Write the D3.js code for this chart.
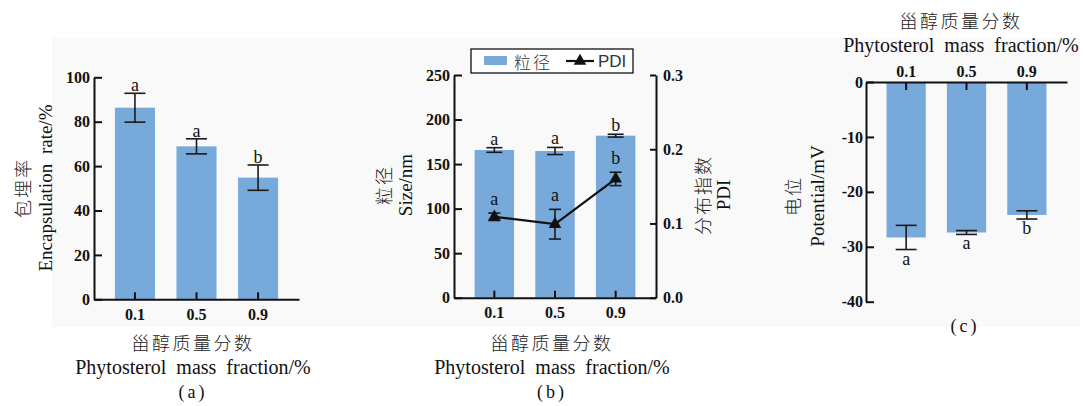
<!DOCTYPE html>
<html>
<head>
<meta charset="utf-8">
<script src="https://cdn.jsdelivr.net/npm/d3@7"></script>
<style>
  body { margin: 0; background: #fff; }
</style>
</head>
<body>
<svg id="chart" width="1083" height="406"></svg>
<script>
// data
const fractions        = ["0.1", "0.5", "0.9"];
const encapRate        = [86.3, 68.9, 54.8];
const encapErr         = [6.5, 3.4, 5.7];
const encapLetters     = ["a", "a", "b"];
const sizeNm           = [165.8, 164.7, 181.9];
const sizeErr          = [2.6, 4.0, 1.6];
const sizeLetters      = ["a", "a", "b"];
const pdiValues        = [0.109, 0.099, 0.160];
const pdiErr           = [0.005, 0.020, 0.009];
const pdiLetters       = ["a", "a", "b"];
const potential        = [-28.3, -27.4, -24.2];
const potentialErr     = [2.2, 0.35, 0.75];
const potentialLetters = ["a", "a", "b"];
const ticksA   = [0, 20, 40, 60, 80, 100];
const ticksB   = [0, 50, 100, 150, 200, 250];
const ticksPdi = [0, 0.1, 0.2, 0.3];
const ticksC   = [0, -10, -20, -30, -40];

const svg = d3.select("#chart");
const SERIF = "'Liberation Serif', 'Times New Roman', serif";
const CJK   = "'Noto Sans CJK SC', sans-serif";
const barColor = "#78a9db";
const ink = "#111";

// faint grey panel behind the plots
svg.append("rect")
    .attr("x", 52).attr("y", 38)
    .attr("width", 1028).attr("height", 289)
    .attr("fill", "#f9f9f9");

// style an axis group the same way for every panel
function styleAxis(g) {
    g.select(".domain").attr("stroke", ink).attr("stroke-width", 2);
    g.selectAll(".tick line").attr("stroke", ink).attr("stroke-width", 2);
    g.selectAll(".tick text")
        .attr("fill", ink)
        .attr("font-family", SERIF)
        .attr("font-weight", "bold")
        .attr("font-size", "16px");
}

// two line rotated axis title (chinese + english)
function yTitle(cx, cy, zh, en, gap) {
    const g = svg.append("g").attr("transform", `translate(${cx}, ${cy}) rotate(-90)`);
    g.append("text")
        .attr("y", 0)
        .attr("text-anchor", "middle")
        .attr("dominant-baseline", "central")
        .attr("font-family", CJK)
        .attr("font-weight", 300)
        .attr("font-size", "18px")
        .attr("letter-spacing", "2px")
        .attr("fill", "#222")
        .text(zh);
    g.append("text")
        .attr("y", gap)
        .attr("text-anchor", "middle")
        .attr("dominant-baseline", "central")
        .attr("font-family", SERIF)
        .attr("font-size", "19px")
        .attr("word-spacing", "5px")
        .attr("fill", ink)
        .text(en);
}

// chinese / english x title plus the panel tag
function xTitle(cx, y, tag) {
    svg.append("text")
        .attr("x", cx).attr("y", y)
        .attr("text-anchor", "middle")
        .attr("dominant-baseline", "central")
        .attr("font-family", CJK)
        .attr("font-weight", 300)
        .attr("font-size", "18px")
        .attr("letter-spacing", "2.5px")
        .attr("fill", "#222")
        .text("甾醇质量分数");
    svg.append("text")
        .attr("x", cx).attr("y", y + 25)
        .attr("text-anchor", "middle")
        .attr("dominant-baseline", "central")
        .attr("font-family", SERIF)
        .attr("font-size", "20px")
        .attr("word-spacing", "5px")
        .attr("fill", ink)
        .text("Phytosterol mass fraction/%");
    if (tag) panelTag(cx, y + 50, tag);
}

function panelTag(cx, y, tag) {
    svg.append("text")
        .attr("x", cx).attr("y", y)
        .attr("text-anchor", "middle")
        .attr("dominant-baseline", "central")
        .attr("font-family", SERIF)
        .attr("font-size", "18px")
        .attr("letter-spacing", "3px")
        .attr("fill", ink)
        .text(tag);
}

// error bars with caps
function errorBars(g, xs, ys, vals, errs, cap) {
    const eb = g.append("g").attr("stroke", "#1a1a1a").attr("stroke-width", 1.6);
    vals.forEach((v, i) => {
        const cx = xs(fractions[i]) + xs.bandwidth() / 2;
        const y1 = ys(v + errs[i]), y2 = ys(v - errs[i]);
        eb.append("line").attr("x1", cx).attr("x2", cx).attr("y1", y1).attr("y2", y2);
        eb.append("line").attr("x1", cx - cap).attr("x2", cx + cap).attr("y1", y1).attr("y2", y1);
        eb.append("line").attr("x1", cx - cap).attr("x2", cx + cap).attr("y1", y2).attr("y2", y2);
    });
}

function letters(g, xs, labels, yFn) {
    g.append("g").selectAll("text")
        .data(labels)
        .join("text")
        .attr("x", (d, i) => xs(fractions[i]) + xs.bandwidth() / 2)
        .attr("y", (d, i) => yFn(i))
        .attr("text-anchor", "middle")
        .attr("font-family", SERIF)
        .attr("font-size", "18px")
        .attr("fill", ink)
        .text(d => d);
}

// ---------- (a) encapsulation rate ----------
const xA = d3.scaleBand().domain(fractions).range([94, 299]).paddingInner(0.35).paddingOuter(0.34);
const yA = d3.scaleLinear().domain([0, 100]).range([299.3, 77.3]);
const gA = svg.append("g");

gA.selectAll("rect")
    .data(encapRate)
    .join("rect")
    .attr("x", (d, i) => xA(fractions[i]))
    .attr("width", xA.bandwidth())
    .attr("y", d => yA(d))
    .attr("height", d => yA(0) - yA(d))
    .attr("fill", barColor);
errorBars(gA, xA, yA, encapRate, encapErr, 10.5);
letters(gA, xA, encapLetters, i => yA(encapRate[i] + encapErr[i]) - 2);

gA.append("g").attr("transform", `translate(94,0)`)
    .call(d3.axisLeft(yA).tickValues(ticksA).tickSizeInner(-8).tickSizeOuter(0).tickPadding(4))
    .call(styleAxis);
gA.append("g").attr("transform", `translate(0,${yA(0)})`)
    .call(d3.axisBottom(xA).tickSizeInner(-7).tickSizeOuter(0).tickPadding(9))
    .call(styleAxis);
yTitle(22, 188, "包埋率", "Encapsulation rate/%", 23);
xTitle(193, 342, "(a)");

// ---------- (b) particle size + PDI ----------
const xB = d3.scaleBand().domain(fractions).range([454, 656]).paddingInner(0.35).paddingOuter(0.34);
const yB = d3.scaleLinear().domain([0, 250]).range([297.7, 75]);
const yP = d3.scaleLinear().domain([0, 0.3]).range([297.7, 75]);
const gB = svg.append("g");

gB.selectAll("rect")
    .data(sizeNm)
    .join("rect")
    .attr("x", (d, i) => xB(fractions[i]))
    .attr("width", xB.bandwidth())
    .attr("y", d => yB(d))
    .attr("height", d => yB(0) - yB(d))
    .attr("fill", barColor);
errorBars(gB, xB, yB, sizeNm, sizeErr, 8);
letters(gB, xB, sizeLetters, i => yB(sizeNm[i] + sizeErr[i]) - 3);

// PDI line with triangles
const pdiLine = d3.line()
    .x((d, i) => xB(fractions[i]) + xB.bandwidth() / 2)
    .y(d => yP(d));
gB.append("path")
    .datum(pdiValues)
    .attr("d", pdiLine)
    .attr("fill", "none")
    .attr("stroke", ink)
    .attr("stroke-width", 2.2);
errorBars(gB, xB, yP, pdiValues, pdiErr, 6);
const tri = d3.symbol().type(d3.symbolTriangle).size(70);
gB.append("g").selectAll("path")
    .data(pdiValues)
    .join("path")
    .attr("transform", (d, i) => `translate(${xB(fractions[i]) + xB.bandwidth() / 2}, ${yP(d)})`)
    .attr("d", tri)
    .attr("fill", ink);
letters(gB, xB, pdiLetters, i => yP(pdiValues[i] + pdiErr[i]) - 8);

gB.append("g").attr("transform", `translate(454,0)`)
    .call(d3.axisLeft(yB).tickValues(ticksB).tickSizeInner(-8).tickSizeOuter(0).tickPadding(4))
    .call(styleAxis);
gB.append("g").attr("transform", `translate(656,0)`)
    .call(d3.axisRight(yP).tickValues(ticksPdi).tickFormat(d3.format(".1f"))
        .tickSizeInner(-6).tickSizeOuter(0).tickPadding(7))
    .call(styleAxis);
gB.append("g").attr("transform", `translate(0,${yB(0)})`)
    .call(d3.axisBottom(xB).tickSizeInner(-7).tickSizeOuter(0).tickPadding(9))
    .call(styleAxis);
yTitle(383, 185, "粒径", "Size/nm", 22);
yTitle(702, 195, "分布指数", "PDI", 21);
xTitle(552, 342, "(b)");

// legend
const lg = svg.append("g");
lg.append("rect")
    .attr("x", 471).attr("y", 49).attr("width", 162).attr("height", 24)
    .attr("fill", "#fff").attr("stroke", ink).attr("stroke-width", 1.3);
lg.append("rect")
    .attr("x", 484).attr("y", 56).attr("width", 23).attr("height", 9)
    .attr("fill", barColor);
lg.append("text")
    .attr("x", 514).attr("y", 61)
    .attr("dominant-baseline", "central")
    .attr("font-family", CJK).attr("font-weight", 300).attr("font-size", "17px")
    .attr("letter-spacing", "2px").attr("fill", "#333")
    .text("粒径");
lg.append("line")
    .attr("x1", 566).attr("x2", 594).attr("y1", 61).attr("y2", 61)
    .attr("stroke", ink).attr("stroke-width", 2.2);
lg.append("path")
    .attr("transform", "translate(580,61)")
    .attr("d", tri)
    .attr("fill", ink);
lg.append("text")
    .attr("x", 598).attr("y", 61)
    .attr("dominant-baseline", "central")
    .attr("font-family", "'Liberation Sans', Arial, sans-serif").attr("font-size", "17px").attr("fill", "#333")
    .text("PDI");

// ---------- (c) zeta potential ----------
const xC = d3.scaleBand().domain(fractions).range([866, 1067]).paddingInner(0.35).paddingOuter(0.34);
const yC = d3.scaleLinear().domain([-40, 0]).range([301.7, 82]);
const gC = svg.append("g");

gC.selectAll("rect")
    .data(potential)
    .join("rect")
    .attr("x", (d, i) => xC(fractions[i]))
    .attr("width", xC.bandwidth())
    .attr("y", yC(0))
    .attr("height", d => yC(d) - yC(0))
    .attr("fill", barColor);
errorBars(gC, xC, yC, potential, potentialErr, 10.5);
letters(gC, xC, potentialLetters, i => yC(potential[i] - potentialErr[i]) + 15);

gC.append("g").attr("transform", `translate(866,0)`)
    .call(d3.axisLeft(yC).tickValues(ticksC).tickFormat(d => String(d))
        .tickSizeInner(-8).tickSizeOuter(0).tickPadding(3))
    .call(styleAxis);
gC.append("g").attr("transform", `translate(0,${yC(0)})`)
    .call(d3.axisTop(xC).tickSizeInner(-8).tickSizeOuter(0).tickPadding(5))
    .call(styleAxis);
yTitle(792, 196, "电位", "Potential/mV", 25);
xTitle(961, 20, null);
panelTag(965, 326, "(c)");
</script>
</body>
</html>
